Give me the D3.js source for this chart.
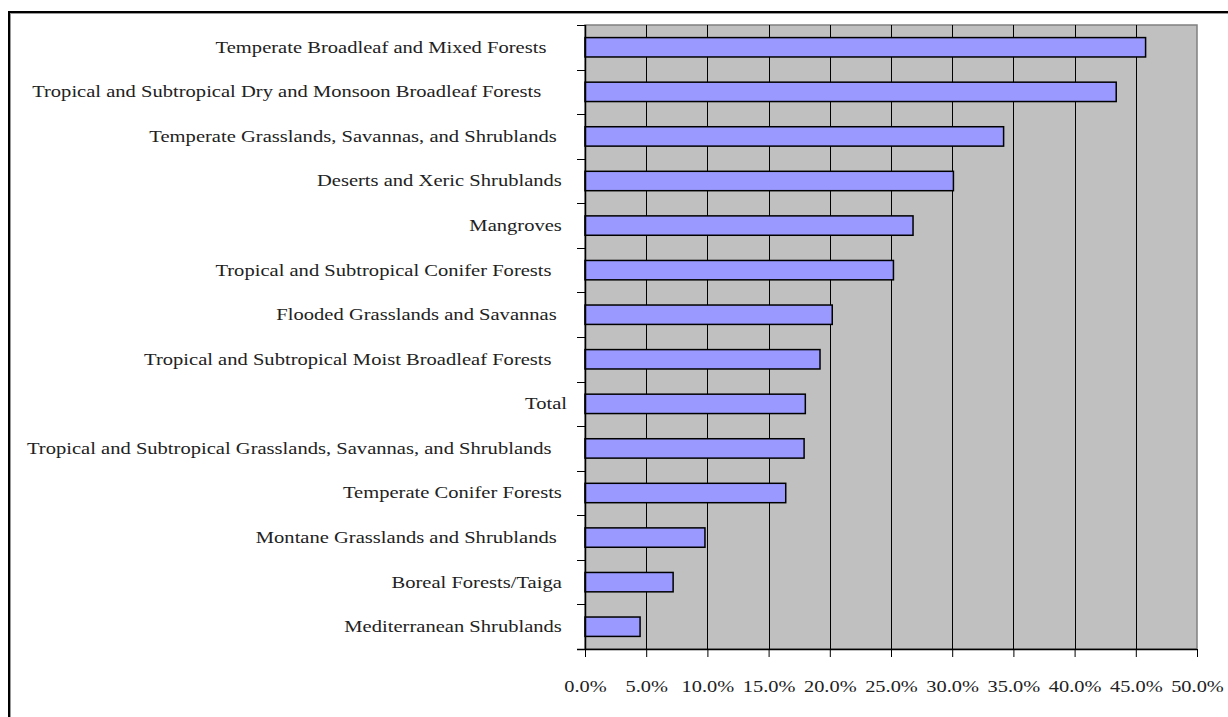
<!DOCTYPE html>
<html><head><meta charset="utf-8">
<script src="https://cdn.jsdelivr.net/npm/d3@7"></script>
<style>body{margin:0;background:#fff;} text{font-family:"Liberation Serif","Times New Roman",serif;fill:#222;white-space:pre;}</style>
</head><body>
<svg id="c" width="1228" height="717"></svg>
<script>
const categories = [
  "Temperate Broadleaf and Mixed Forests    ",
  "Tropical and Subtropical Dry and Monsoon Broadleaf Forests     ",
  "Temperate Grasslands, Savannas, and Shrublands  ",
  "Deserts and Xeric Shrublands ",
  "Mangroves ",
  "Tropical and Subtropical Conifer Forests   ",
  "Flooded Grasslands and Savannas  ",
  "Tropical and Subtropical Moist Broadleaf Forests   ",
  "Total",
  "Tropical and Subtropical Grasslands, Savannas, and Shrublands   ",
  "Temperate Conifer Forests ",
  "Montane Grasslands and Shrublands  ",
  "Boreal Forests/Taiga ",
  "Mediterranean Shrublands "
];
const values = [0.458, 0.434, 0.342, 0.301, 0.268, 0.252, 0.202, 0.192, 0.180, 0.179, 0.164, 0.098, 0.072, 0.045];
const xTicks = [0, 0.05, 0.10, 0.15, 0.20, 0.25, 0.30, 0.35, 0.40, 0.45, 0.50];

const svg = d3.select("#c");
const L = 585, R = 1197, T = 25, B = 649;
const kY = 1.21, kX = 1.2;

// outer frame
svg.append("rect").attr("x", 10).attr("y", 13).attr("width", 1300).attr("height", 800)
  .attr("fill", "none").attr("stroke", "#999").attr("stroke-width", 2);
svg.append("rect").attr("x", 9).attr("y", 12).attr("width", 1300).attr("height", 800)
  .attr("fill", "none").attr("stroke", "#000").attr("stroke-width", 2);

const x = d3.scaleLinear().domain([0, 0.5]).range([L, R]);
const y = d3.scaleBand().domain(categories).range([T, B]).paddingInner(1.3/2.3).paddingOuter(0.65/2.3);
const yb = d3.scaleBand().domain(categories).range([T, B]);

// plot area
svg.append("rect").attr("x", L).attr("y", T).attr("width", R - L).attr("height", B - T)
  .attr("fill", "#c0c0c0").attr("stroke", "#808080").attr("stroke-width", 1.5);

// gridlines
svg.append("g").selectAll("line").data(xTicks.slice(1, -1)).join("line")
  .attr("x1", d => Math.round(x(d)) + 0.5).attr("x2", d => Math.round(x(d)) + 0.5)
  .attr("y1", T).attr("y2", B).attr("stroke", "#000").attr("stroke-width", 1);

// bars
svg.append("g").selectAll("rect").data(values).join("rect")
  .attr("x", x(0)).attr("y", (d, i) => y(categories[i]))
  .attr("width", d => x(d) - x(0)).attr("height", y.bandwidth())
  .attr("fill", "#9999ff").attr("stroke", "#000").attr("stroke-width", 1.5);

// x axis
const xa = svg.append("g").attr("transform", `translate(0,${B})`)
  .call(d3.axisBottom(x).tickValues(xTicks).tickFormat(d3.format(".1%")).tickSize(8));
xa.select(".domain").remove();
xa.selectAll("line").attr("stroke", "#000");
xa.selectAll("text").attr("font-size", 17).attr("fill", "#222")
  .attr("y", 0).attr("dy", 0)
  .attr("transform", `translate(0,43) scale(${kX},1)`);
svg.append("line").attr("x1", L - 8).attr("x2", R).attr("y1", B + 0.5).attr("y2", B + 0.5).attr("stroke", "#000").attr("stroke-width", 1.5);

// y axis
const ya = svg.append("g").attr("transform", `translate(${L},0)`)
  .call(d3.axisLeft(y).tickSize(0));
ya.select(".domain").remove();
ya.selectAll("text").attr("font-size", 17).attr("fill", "#222")
  .attr("x", 0).attr("dy", "0.32em")
  .attr("transform", `translate(-18,0) scale(${kY},1)`);
svg.append("line").attr("x1", L + 0.5).attr("x2", L + 0.5).attr("y1", T).attr("y2", B).attr("stroke", "#000").attr("stroke-width", 1.5);
const bounds = categories.map(c => yb(c)).concat([B]);
svg.append("g").selectAll("line").data(bounds).join("line")
  .attr("x1", L - 8).attr("x2", L).attr("y1", d => Math.round(d) + 0.5).attr("y2", d => Math.round(d) + 0.5)
  .attr("stroke", "#000").attr("stroke-width", 1);
</script>
</body></html>
